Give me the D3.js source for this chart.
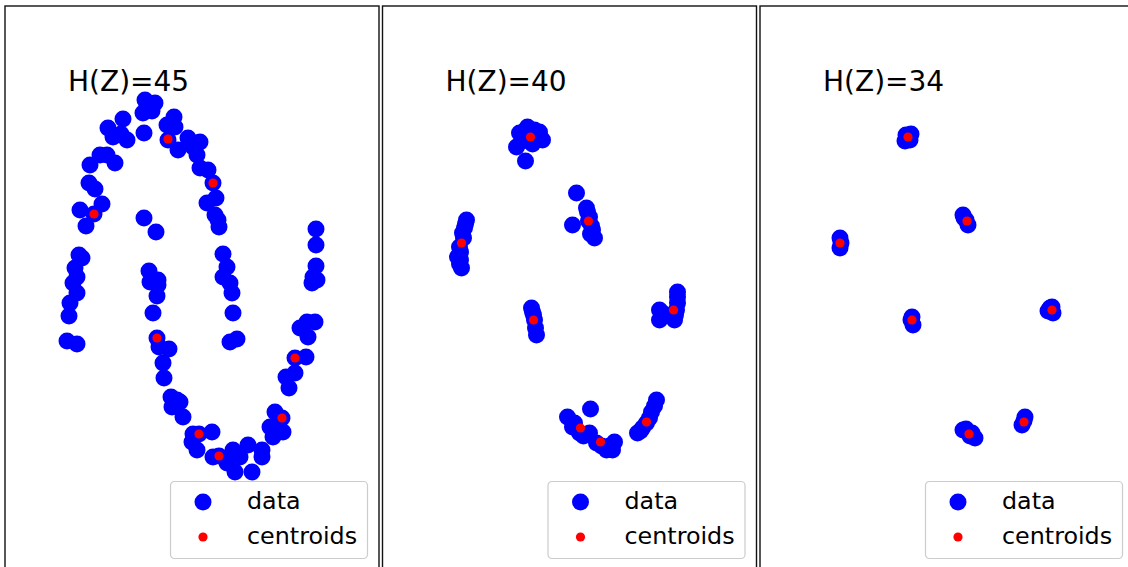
<!DOCTYPE html>
<html>
<head>
<meta charset="utf-8">
<script src="https://cdn.jsdelivr.net/npm/d3@7"></script>
<style>
  body { margin: 0; background: #fff; }
  text { font-family: "DejaVu Sans", sans-serif; }
</style>
</head>
<body>
<script>
const titles = ['H(Z)=45', 'H(Z)=40', 'H(Z)=34'];

// points, one array per panel
const data1 = [
    [-0.47,1.86],[-0.37,1.83],[-0.49,1.73],[-0.40,1.75],[-0.45,1.80],[-0.69,1.67],
    [-0.84,1.58],[-0.79,1.49],[-0.65,1.46],[-0.71,1.52],[-0.48,1.53],[-0.18,1.69],
    [-0.25,1.61],[-0.17,1.59],[-0.24,1.46],[-0.14,1.36],[-0.04,1.48],[0.08,1.44],
    [0.01,1.39],[0.05,1.31],[0.08,1.18],[0.16,1.16],[0.21,1.03],[0.24,0.88],
    [0.15,0.83],[0.23,0.71],[0.26,0.66],[0.27,0.59],[-1.02,1.21],[-0.92,1.31],
    [-0.85,1.31],[-0.77,1.23],[-1.03,1.03],[-0.97,0.97],[-1.12,0.76],[-0.90,0.82],
    [-0.98,0.72],[-1.06,0.60],[-0.48,0.68],[-0.36,0.54],[-1.13,0.31],[-1.10,0.28],
    [-1.17,0.18],[-1.15,0.09],[-1.19,0.03],[-1.15,-0.07],[-1.22,-0.17],[-1.23,-0.30],
    [-1.25,-0.55],[-1.15,-0.58],[1.24,0.57],[1.24,0.41],[1.24,0.20],[1.21,0.09],
    [1.20,0.03],[1.25,0.06],[1.15,-0.36],[1.23,-0.36],[1.08,-0.42],[1.16,-0.51],
    [-0.43,0.15],[-0.34,0.06],[-0.42,0.04],[-0.34,0.01],[-0.35,-0.10],[-0.39,-0.27],
    [-0.35,-0.52],[-0.33,-0.61],[-0.23,-0.63],[-0.29,-0.77],[-0.28,-0.92],[0.31,0.32],
    [0.35,0.19],[0.31,0.09],[0.38,0.03],[0.40,-0.07],[0.41,-0.27],[0.38,-0.56],
    [0.45,-0.53],[-0.21,-1.11],[-0.12,-1.16],[-0.20,-1.21],[-0.09,-1.31],[-0.15,-1.14],
    [0.01,-1.48],[0.07,-1.48],[0.20,-1.46],[0.00,-1.56],[0.05,-1.64],[0.21,-1.71],
    [0.27,-1.70],[0.41,-1.64],[0.48,-1.71],[0.56,-1.59],[0.70,-1.64],[0.70,-1.71],
    [0.35,-1.77],[0.43,-1.86],[0.60,-1.86],[0.83,-1.26],[0.90,-1.32],[0.78,-1.41],
    [0.91,-1.46],[0.81,-1.51],[0.94,-0.91],[0.97,-1.02],[1.03,-0.87],[1.03,-0.72],
    [1.14,-0.71]
];
const centroids1 = [
    [-0.24,1.47],[0.21,1.03],[-0.98,0.72],[-0.35,-0.52],
    [1.03,-0.72],[0.90,-1.32],[0.07,-1.48],[0.27,-1.70]
];

const data2 = [
    [-0.42,1.59],[-0.50,1.53],[-0.30,1.54],[-0.27,1.46],[-0.53,1.39],[-0.39,1.49],
    [-0.35,1.56],[-0.44,1.25],[-0.45,1.55],[-0.33,1.50],[-0.47,1.45],[-0.37,1.42],
    [0.07,0.93],[0.03,0.61],[0.17,0.78],[0.20,0.69],[0.18,0.74],[0.22,0.60],
    [0.23,0.56],[0.25,0.48],[0.19,0.65],[0.21,0.52],[-1.03,0.66],[-1.05,0.58],
    [-1.04,0.62],[-1.07,0.53],[-1.06,0.48],[-1.10,0.39],[-1.09,0.34],[-1.12,0.29],
    [-1.08,0.18],[-1.09,0.26],[-1.10,0.22],[-0.38,-0.22],[-0.37,-0.26],[-0.35,-0.34],
    [-0.34,-0.42],[-0.33,-0.49],[-0.36,-0.29],[1.08,-0.06],[1.08,-0.11],[1.08,-0.17],
    [0.90,-0.24],[0.90,-0.34],[0.93,-0.27],[0.96,-0.30],[1.05,-0.34],[1.06,-0.29],
    [1.07,-0.24],[-0.02,-1.31],[0.21,-1.23],[0.03,-1.41],[0.05,-1.37],[0.10,-1.47],
    [0.14,-1.50],[0.20,-1.47],[0.27,-1.57],[0.32,-1.60],[0.37,-1.64],[0.40,-1.60],
    [0.45,-1.56],[0.43,-1.64],[0.68,-1.47],[0.71,-1.45],[0.77,-1.37],[0.80,-1.32],
    [0.82,-1.26],[0.85,-1.20],[0.87,-1.14],[0.73,-1.42]
];
const centroids2 = [
    [-0.39,1.49],[0.19,0.65],[-1.08,0.43],[-0.36,-0.34],
    [1.04,-0.24],[0.11,-1.42],[0.31,-1.56],[0.77,-1.36]
];

const data3 = [
    [-0.41,1.51],[-0.37,1.46],[-0.42,1.45],[-0.36,1.52],[-0.39,1.49],
    [-1.07,0.48],[-1.07,0.38],[-1.06,0.43],
    [0.16,0.71],[0.21,0.61],[0.19,0.66],[0.17,0.68],
    [-0.35,-0.31],[-0.34,-0.39],[-0.36,-0.34],
    [1.03,-0.22],[1.06,-0.27],[1.01,-0.25],[1.05,-0.21],
    [0.16,-1.44],[0.28,-1.52],[0.19,-1.43],[0.23,-1.50],[0.25,-1.47],
    [0.78,-1.31],[0.75,-1.39],[0.77,-1.35]
];
const centroids3 = [
    [-0.39,1.49],[0.20,0.65],[-1.07,0.43],[-0.35,-0.34],
    [1.05,-0.24],[0.22,-1.48],[0.77,-1.36]
];

const allData = [data1, data2, data3];
const allCentroids = [centroids1, centroids2, centroids3];

const width = 1128, height = 567;
const panelW = 374, panelStep = 377.5, panelLeft = 5, panelTop = 6;

const svg = d3.select('body').append('svg')
    .attr('width', width)
    .attr('height', height);

titles.forEach(function(title, i) {
    var x0 = panelLeft + i * panelStep;
    var g = svg.append('g').attr('transform', 'translate(' + x0 + ',0)');

    var x = d3.scaleLinear().domain([-1.87, 1.87]).range([0, panelW]);
    var y = d3.scaleLinear().domain([2.8, -2.8]).range([panelTop, 566]);

    // data points
    g.append('g').selectAll('circle')
        .data(allData[i])
        .enter().append('circle')
        .attr('cx', function(d) { return x(d[0]); })
        .attr('cy', function(d) { return y(d[1]); })
        .attr('r', 8.5)
        .attr('fill', '#0000ff');

    // centroids
    g.append('g').selectAll('circle')
        .data(allCentroids[i])
        .enter().append('circle')
        .attr('cx', function(d) { return x(d[0]); })
        .attr('cy', function(d) { return y(d[1]); })
        .attr('r', 4.6)
        .attr('fill', '#ff0000');

    g.append('text')
        .attr('x', 63)
        .attr('y', 91)
        .attr('font-size', 28)
        .attr('fill', '#000')
        .text(title);

    // legend
    var lg = g.append('g').attr('transform', 'translate(165,481)');
    lg.append('rect')
        .attr('x', 0.5).attr('y', 0.5)
        .attr('width', 197).attr('height', 77)
        .attr('rx', 4)
        .attr('fill', '#fff').attr('fill-opacity', 0.8)
        .attr('stroke', '#cccccc').attr('stroke-width', 1.2);
    lg.append('circle').attr('cx', 33).attr('cy', 21).attr('r', 8.5).attr('fill', '#0000ff');
    lg.append('circle').attr('cx', 33).attr('cy', 56).attr('r', 4.6).attr('fill', '#ff0000');
    lg.append('text').attr('x', 77).attr('y', 28).attr('font-size', 23.8).text('data');
    lg.append('text').attr('x', 77).attr('y', 63).attr('font-size', 23.8).text('centroids');

    // frame
    g.append('rect')
        .attr('x', 0).attr('y', panelTop)
        .attr('width', panelW).attr('height', 600)
        .attr('fill', 'none')
        .attr('stroke', '#111')
        .attr('stroke-width', 1.4);
});
</script>
</body>
</html>
